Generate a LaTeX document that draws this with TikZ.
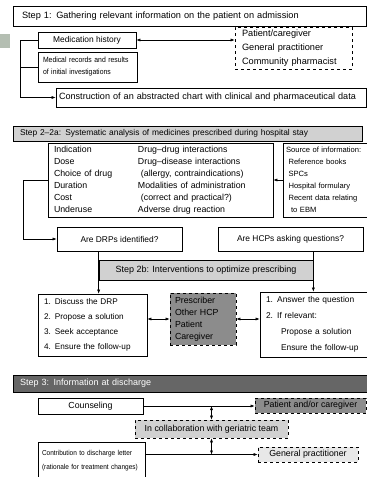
\documentclass[tikz,border=0pt]{standalone}
\usepackage{fontspec}
\setmainfont{Liberation Sans}
\newfontfamily\narrowsans[FakeStretch=0.9]{Liberation Sans}
\usetikzlibrary{positioning,arrows.meta,calc}
\definecolor{tabgrey}{HTML}{B4BEB2}
\definecolor{lightdots}{gray}{0.82}
\definecolor{darkdots}{gray}{0.55}
\newcommand{\fsize}[2]{\fontsize{#1}{#2}\selectfont}

\begin{document}
\begin{tikzpicture}[x=1pt, y=-1pt,
    every node/.style={font=\fsize{8}{10}, inner sep=0pt},
    box/.style={draw, line width=0.6pt},
    hint/.style={draw, dashed, line width=0.6pt},
    head/.style={draw, line width=0.7pt, font=\fsize{9}{11}, align=left},
    arr/.style={-{Latex[length=4pt,width=3pt]}, line width=0.5pt},
    both/.style={{Latex[length=4pt,width=3pt]}-{Latex[length=4pt,width=3pt]}, line width=0.5pt}]
  \useasboundingbox (0,0) rectangle (367,477);
  \fill[tabgrey] (0,34) rectangle (10,48);

  % step 1
  \node[head, font=\fsize{9.2}{11}, minimum width=353, minimum height=20, text width=335] (s1) at (189.5,16)
    {Step 1: Gathering relevant information on the patient on admission};
  \node[box, font=\fsize{8.4}{10}, minimum width=98, minimum height=16] (hist) at (87,40) {Medication history};
  \node[box, font=\narrowsans\fsize{7.6}{12}, minimum width=99, minimum height=30, text width=89, align=left] (recs) at (87.5,67)
    {Medical records and results\\of initial investigations};
  \node[hint, font=\fsize{9.2}{14}, minimum width=117, minimum height=42, text width=103, align=left] (people) at (293.5,48)
    {Patient/caregiver\\General practitioner\\Community pharmacist};
  \node[box, font=\fsize{9.1}{11}, minimum width=310, minimum height=19, text width=304, align=left] (chart) at (211,97.5)
    {Construction of an abstracted chart with clinical and pharmaceutical data};
  \coordinate (spine) at (20,40);
  \draw[both] (hist.east) -- (hist.east -| people.west);
  \draw[arr] (hist.west) -- (spine) |- (chart.west);
  \draw (recs.west) -- (recs.west -| spine);

  % step 2
  \node[head, fill=lightdots, font=\fsize{8.4}{10}, minimum width=349, minimum height=15, text width=335] (s2) at (187.5,133.5)
    {Step 2--2a: Systematic analysis of medicines prescribed during hospital stay};
  \node[box, font=\fsize{8.8}{12}, minimum width=225, minimum height=74, text width=213, align=left] (checks) at (160.5,180)
    {\makebox[84pt][l]{Indication}Drug--drug interactions\\
     \makebox[84pt][l]{Dose}Drug--disease interactions\\
     \makebox[84pt][l]{Choice of drug}\ (allergy, contraindications)\\
     \makebox[84pt][l]{Duration}Modalities of administration\\
     \makebox[84pt][l]{Cost}\ (correct and practical?)\\
     \makebox[84pt][l]{Underuse}Adverse drug reaction};
  \node[box, font=\fsize{7.6}{12}, minimum width=84, minimum height=74, text width=78, align=left] (src) at (325,180)
    {Source of information:\\
     \ Reference books\\
     \ SPCs\\
     \ Hospital formulary\\
     \ Recent data relating\\
     \ \ to EBM};
  \node[box, font=\fsize{8.4}{10}, minimum width=125, minimum height=24] (drp) at (119.5,239) {Are DRPs identified?};
  \node[box, font=\fsize{8.4}{10}, minimum width=145, minimum height=24] (hcp) at (290.5,239) {Are HCPs asking questions?};
  \draw[arr] (src.west) -- (checks.east);
  \draw[arr] (checks.west) -- ++(-24,0) |- (drp.west);

  \node[head, fill=lightdots, minimum width=214, minimum height=20, align=center] (s2b) at (206,270)
    {Step 2b: Interventions to optimize prescribing};
  \node[box, font=\fsize{8.2}{15}, minimum width=109, minimum height=62, text width=97, align=left] (act) at (92.5,325)
    {1. Discuss the DRP\\2. Propose a solution\\3. Seek acceptance\\4. Ensure the follow-up};
  \node[hint, fill=darkdots, font=\fsize{8.8}{12}, minimum width=66, minimum height=52, text width=56, align=left] (who) at (203,319)
    {Prescriber\\Other HCP\\Patient\\Caregiver};
  \node[box, font=\fsize{8.4}{16}, minimum width=107, minimum height=65, text width=95, align=left] (ans) at (313.5,324.5)
    {1. Answer the question\\2. If relevant:\\\hspace*{15pt}Propose a solution\\\hspace*{15pt}Ensure the follow-up};
  \draw[arr] (drp.south -| s2b.west) -- (act.north -| s2b.west);
  \draw[arr] (hcp.south -| s2b.east) -- (ans.north -| s2b.east);
  \draw[both] (who.west -| act.east) -- (who.west);
  \draw[both] (who.east) -- (who.east -| ans.west);

  % step 3
  \node[head, fill=black!60, text=white, minimum width=354, minimum height=17, text width=340] (s3) at (190,383.5)
    {Step 3: Information at discharge};
  \node[box, font=\fsize{8.8}{10}, minimum width=105, minimum height=16] (couns) at (90.5,406) {Counseling};
  \node[hint, fill=darkdots, font=\fsize{8.8}{10}, minimum width=111, minimum height=15] (pcg) at (310.5,405.5)
    {Patient and/or caregiver};
  \node[hint, fill=lightdots, font=\fsize{8.8}{10}, minimum width=153, minimum height=18] (team) at (211.5,429)
    {In collaboration with geriatric team};
  \node[box, font=\narrowsans\fsize{7.2}{14}, minimum width=107, minimum height=38, text width=99, align=left] (letter) at (91.5,461)
    {Contribution to discharge letter\\(rationale for treatment changes)};
  \node[hint, fill=lightdots!50, font=\fsize{8.8}{10}, minimum width=100, minimum height=15] (gp) at (308,454.5)
    {General practitioner};
  \draw[arr] (couns.east) -- (couns.east -| pcg.west);
  \draw[arr] (letter.east |- gp.west) -- (gp.west);
  \draw[both] (team.north) -- (team.north |- couns.east);
  \draw[both] (team.south) -- (team.south |- gp.west);
\end{tikzpicture}
\end{document}
